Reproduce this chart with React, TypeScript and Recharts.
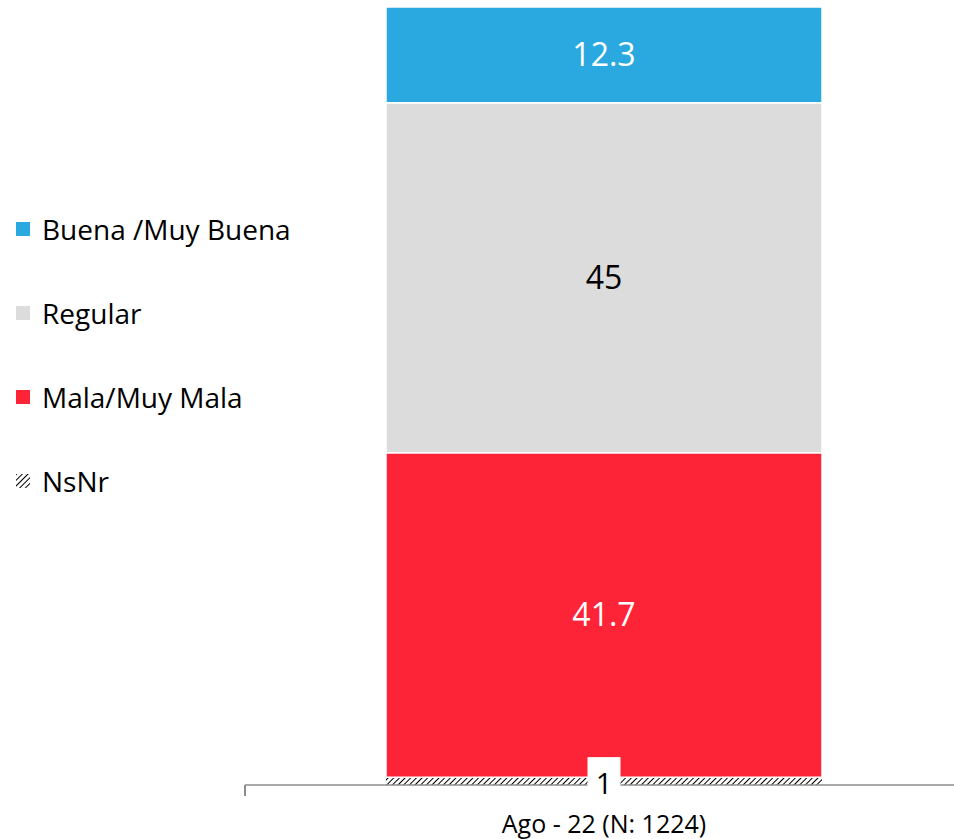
import React from "react";
import {
  BarChart,
  Bar,
  XAxis,
  YAxis,
  LabelList,
  usePlotArea,
} from "recharts";

const categories = ["Ago - 22 (N: 1224)"];
const nsnr = [1];
const mala = [41.7];
const regular = [45];
const buena = [12.3];

const series = [
  { key: "buena", name: "Buena /Muy Buena", color: "#29a9e0", label: "#ffffff" },
  { key: "regular", name: "Regular", color: "#dcdcdc", label: "#000000" },
  { key: "mala", name: "Mala/Muy Mala", color: "#fc2436", label: "#ffffff" },
  { key: "nsnr", name: "NsNr", color: "url(#hatch)", label: "#000000" },
];

const data = categories.map((c, i) => ({
  cat: c,
  nsnr: nsnr[i],
  mala: mala[i],
  regular: regular[i],
  buena: buena[i],
}));

const FONT = "'Open Sans', 'Noto Sans', sans-serif";
const AXIS = "#8c8c8c";

function HatchBar(props: any) {
  const { x, y, width, height } = props;
  return (
    <g>
      <defs>
        <pattern id="hatch" width="4" height="4" patternUnits="userSpaceOnUse" patternTransform="rotate(45)">
          <rect width="4" height="4" fill="#ffffff" />
          <line x1="0" y1="0" x2="0" y2="4" stroke="#000000" strokeWidth="2" />
        </pattern>
      </defs>
      <rect x={x} y={y} width={width} height={height} fill="url(#hatch)" />
    </g>
  );
}

function BoxedLabel(props: any) {
  const { x, y, width, height, value } = props;
  const cx = x + width / 2;
  const cy = y + height / 2;
  return (
    <g>
      <rect x={cx - 16.5} y={cy - 24} width={33} height={38} fill="#ffffff" />
      <text x={cx} y={cy + 1} textAnchor="middle" dominantBaseline="central" fontSize={29} fontFamily={FONT} fill="#000000">
        {value}
      </text>
    </g>
  );
}

function LegendBox() {
  const box = { width: 14, height: 14, marginLeft: 16, marginRight: 12 };
  return (
    <div style={{ position: "absolute", left: 0, top: 187, fontFamily: FONT, fontSize: 28, color: "#000" }}>
      {series.map((s) => (
        <div key={s.key} style={{ display: "flex", alignItems: "center", height: 84, whiteSpace: "nowrap" }}>
          {s.key === "nsnr" ? (
            <svg width={14} height={14} style={{ marginLeft: 16, marginRight: 12 }}>
              <defs>
                <pattern id="hatchLeg" width="4" height="4" patternUnits="userSpaceOnUse" patternTransform="rotate(45)">
                  <rect width="4" height="4" fill="#fff" />
                  <line x1="0" y1="0" x2="0" y2="4" stroke="#000" strokeWidth="2" />
                </pattern>
              </defs>
              <rect width={14} height={14} fill="url(#hatchLeg)" />
            </svg>
          ) : (
            <span style={{ display: "inline-block", background: s.color, ...box }} />
          )}
          <span>{s.name}</span>
        </div>
      ))}
    </div>
  );
}

// small tick at the left end of the category axis, as in the source chart
function BoundaryTick() {
  const area = usePlotArea();
  if (!area) return null;
  const y0 = area.y + area.height;
  return <line x1={area.x} y1={y0} x2={area.x} y2={y0 + 11} stroke={AXIS} strokeWidth={2} />;
}

export default function App() {
  return (
    <div style={{ position: "absolute", left: 0, top: 0, width: 954, height: 839, overflow: "hidden", background: "#fff" }}>
      <LegendBox />
      <div style={{ position: "absolute", left: 0, top: 0 }}>
        <BarChart
          width={963}
          height={839}
          data={data}
          margin={{ top: 7, right: 0, bottom: 0, left: 245 }}
          barSize={436}
        >
          <XAxis
            dataKey="cat"
            height={54}
            tickLine={false}
            axisLine={{ stroke: AXIS, strokeWidth: 1.5 }}
            tick={{ fontSize: 25, fontFamily: FONT, fill: "#000" }}
            tickMargin={24}
          />
          <YAxis hide domain={[0, 100]} />
          <BoundaryTick />
          <Bar dataKey="nsnr" name="NsNr" stackId="a" fill="url(#hatch)" shape={HatchBar} isAnimationActive={false}>
            <LabelList dataKey="nsnr" content={BoxedLabel} />
          </Bar>
          {series
            .filter((s) => s.key !== "nsnr")
            .reverse()
            .map((s) => (
              <Bar
                key={s.key}
                dataKey={s.key}
                name={s.name}
                stackId="a"
                fill={s.color}
                stroke="#ffffff"
                strokeWidth={1.5}
                isAnimationActive={false}
              >
                <LabelList dataKey={s.key} position="center" fill={s.label} fontSize={32} fontFamily={FONT} />
              </Bar>
            ))}
        </BarChart>
      </div>
    </div>
  );
}
